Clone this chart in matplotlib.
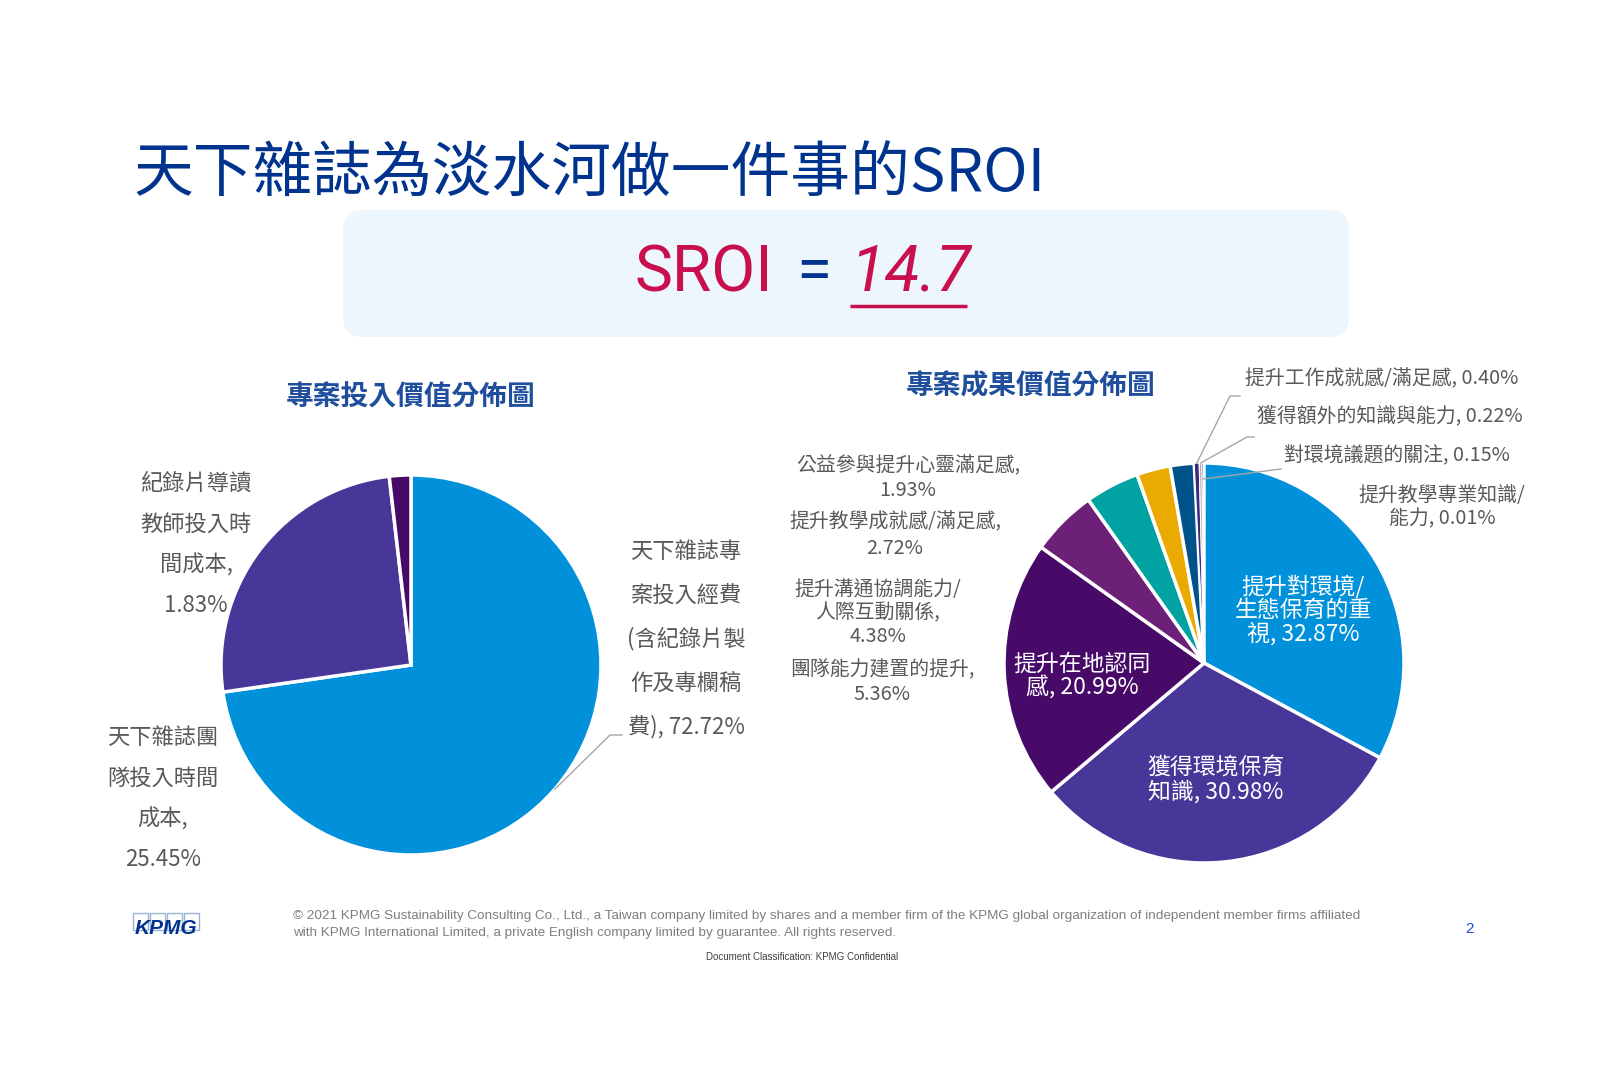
import numpy as np
import matplotlib.pyplot as plt
from matplotlib.patches import FancyBboxPatch, Rectangle

plt.rcParams['font.family'] = ['Noto Sans CJK TC', 'DejaVu Sans']

W, H = 1600, 1072

# left pie: project input value
in_labels = ['天下雜誌專案投入經費(含紀錄片製作及專欄稿費)', '天下雜誌團隊投入時間成本', '紀錄片導讀教師投入時間成本']
in_values = [72.72, 25.45, 1.83]
in_colors = ['#0091DA', '#483698', '#470A68']

# right pie: project outcome value
out_labels = ['提升對環境/生態保育的重視', '獲得環境保育知識', '提升在地認同感', '團隊能力建置的提升',
              '提升溝通協調能力/人際互動關係', '提升教學成就感/滿足感', '公益參與提升心靈滿足感',
              '提升工作成就感/滿足感', '獲得額外的知識與能力', '對環境議題的關注', '提升教學專業知識/能力']
out_values = [32.87, 30.98, 20.99, 5.36, 4.38, 2.72, 1.93, 0.40, 0.22, 0.15, 0.01]
out_colors = ['#0091DA', '#483698', '#470A68', '#6D2077', '#00A3A1', '#EAAA00', '#00528A',
              '#3C2B84', '#B0B0B0', '#1E49E2', '#7F7F7F']

sroi = 14.7

GRAY = '#595959'
NAVY = '#00338D'
CRIMSON = '#C8104F'


def Y(y):
    return H - y


def block(ax, x, y0, lines, step, **kw):
    for i, s in enumerate(lines):
        ax.text(x, Y(y0 + i * step), s, ha='center', va='center', **kw)


fig = plt.figure(figsize=(16, 10.72), dpi=100)
ax = fig.add_axes([0, 0, 1, 1])

# title
ax.text(133, Y(174), '天下雜誌為淡水河做一件事的SROI', fontsize=43, color=NAVY,
        fontweight='light', ha='left', va='center')

# SROI box
ax.add_patch(FancyBboxPatch((343, Y(337)), 1006, 127,
                            boxstyle='round,pad=0,rounding_size=20',
                            facecolor='#EDF5FD', edgecolor='none'))
ax.text(773, Y(273), 'SROI', fontsize=46, color=CRIMSON, family='Roboto',
        ha='right', va='center')
ax.text(814, Y(273), '=', fontsize=46, color=NAVY, family='Roboto',
        ha='center', va='center')
ax.text(850, Y(273), f'{sroi}', fontsize=46, color=CRIMSON, family='Roboto',
        style='italic', ha='left', va='center')
ax.plot([850, 967], [Y(306), Y(306)], color=CRIMSON, lw=2.5, solid_capstyle='butt')

# left pie
lc, lr = (411, Y(665)), 190
wl, _ = ax.pie(in_values, colors=in_colors, startangle=90, counterclock=False,
               center=lc, radius=lr, frame=True,
               wedgeprops=dict(edgecolor='white', linewidth=2.5))
ax.text(411, Y(398), '專案投入價值分佈圖', fontsize=20, color='#1E4E9C',
        fontweight='bold', ha='center', va='center')

lab_kw = dict(fontsize=16, color=GRAY)
block(ax, 686, 551, ['天下雜誌專', '案投入經費', '(含紀錄片製', '作及專欄稿',
                     f'費), {in_values[0]:.2f}%'], 44, **lab_kw)
block(ax, 163, 737, ['天下雜誌團', '隊投入時間', '成本,', f'{in_values[1]:.2f}%'], 41, **lab_kw)
block(ax, 196, 483, ['紀錄片導讀', '教師投入時', '間成本,', f'{in_values[2]:.2f}%'], 41, **lab_kw)

# leader for the big slice
w = wl[0]
a = np.deg2rad((w.theta1 + w.theta2) / 2)
ex, ey = lc[0] + lr * np.cos(a), lc[1] + lr * np.sin(a)
ax.plot([ex, 610, 622], [ey, Y(735), Y(735)], color='#A6A6A6', lw=1)

# right pie
rc, rr = (1204, Y(663)), 200
wr, _ = ax.pie(out_values, colors=out_colors, startangle=90, counterclock=False,
               center=rc, radius=rr, frame=True,
               wedgeprops=dict(edgecolor='white', linewidth=2.5))
for wdg in wr[7:]:
    wdg.set_linewidth(0.8)
ax.text(1031, Y(386), '專案成果價值分佈圖', fontsize=20, color='#1E4E9C',
        fontweight='bold', ha='center', va='center')

in_kw = dict(fontsize=16.5, color='white')
block(ax, 1303, 587, ['提升對環境/', '生態保育的重', f'視, {out_values[0]:.2f}%'], 23.5, **in_kw)
block(ax, 1216, 767, ['獲得環境保育', f'知識, {out_values[1]:.2f}%'], 24.5, **in_kw)
block(ax, 1082, 664, ['提升在地認同', f'感, {out_values[2]:.2f}%'], 24, **in_kw)

sm_kw = dict(fontsize=14.3, color=GRAY)
block(ax, 882, 670, ['團隊能力建置的提升,', f'{out_values[3]:.2f}%'], 25, **sm_kw)
block(ax, 878, 589, ['提升溝通協調能力/', '人際互動關係,', f'{out_values[4]:.2f}%'], 23.5, **sm_kw)
block(ax, 895, 522, ['提升教學成就感/滿足感,', f'{out_values[5]:.2f}%'], 26, **sm_kw)
block(ax, 908, 466, ['公益參與提升心靈滿足感,', f'{out_values[6]:.2f}%'], 25, **sm_kw)
ax.text(1245, Y(379), f'{out_labels[7]}, {out_values[7]:.2f}%', ha='left', va='center', **sm_kw)
ax.text(1257, Y(417), f'{out_labels[8]}, {out_values[8]:.2f}%', ha='left', va='center', **sm_kw)
ax.text(1284, Y(456), f'{out_labels[9]}, {out_values[9]:.2f}%', ha='left', va='center', **sm_kw)
block(ax, 1442, 495, ['提升教學專業知識/', f'能力, {out_values[10]:.2f}%'], 24, **sm_kw)

# leaders for the tiny slices
routes = {7: (1.0, [(1230, 396), (1240, 396)]),
          8: (1.0, [(1247, 437), (1254, 437)]),
          9: (0.92, [(1281, 469)])}
for i, (f, pts) in routes.items():
    w = wr[i]
    a = np.deg2rad((w.theta1 + w.theta2) / 2)
    xs = [rc[0] + f * rr * np.cos(a)] + [p[0] for p in pts]
    ys = [rc[1] + f * rr * np.sin(a)] + [Y(p[1]) for p in pts]
    ax.plot(xs, ys, color='#A6A6A6', lw=1)

# footer
for k in range(4):
    ax.add_patch(Rectangle((133 + k * 17, Y(930)), 15, 17, facecolor='white',
                           edgecolor='#9DB3D6', lw=1))
ax.text(166, Y(929), 'KPMG', fontsize=15, color=NAVY, family='Liberation Sans',
        fontweight='bold', style='italic', ha='center', va='center')
ax.text(293, Y(916), '© 2021 KPMG Sustainability Consulting Co., Ltd., a Taiwan company limited by shares '
        'and a member firm of the KPMG global organization of independent member firms affiliated',
        fontsize=9.7, color='#7F7F7F', family='Liberation Sans', ha='left', va='center')
ax.text(293, Y(933), 'with KPMG International Limited, a private English company limited by guarantee. '
        'All rights reserved.', fontsize=9.7, color='#7F7F7F', family='Liberation Sans',
        ha='left', va='center')
ax.text(1469, Y(929), '2', fontsize=11, color='#1E49E2', family='Liberation Sans',
        ha='center', va='center')
ax.text(802, Y(957), 'Document Classification: KPMG Confidential', fontsize=7, color='#404040',
        family='Liberation Sans', ha='center', va='center')

ax.set_xlim(0, W)
ax.set_ylim(0, H)
ax.set_aspect('auto')
ax.axis('off')

fig.savefig('out.png', dpi=100, facecolor='white')
